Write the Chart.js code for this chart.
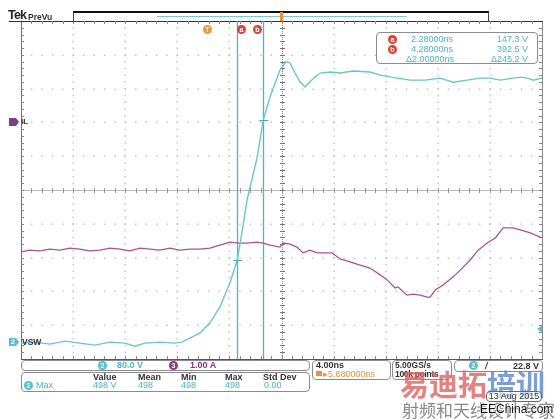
<!DOCTYPE html>
<html lang="en">
<head>
  <meta charset="UTF-8" />
  <title>Tek PreVu - VSW / IL switching edge</title>
  <script src="https://cdn.jsdelivr.net/npm/chart.js"></script>
  <style>
    body { margin: 0; background: #fff; font-family: 'Liberation Sans', Arial, sans-serif; }
    #scope { position: relative; width: 555px; height: 420px; overflow: hidden; }
    #scope canvas { position: absolute; left: 0; top: 0; }
    .abs { position: absolute; white-space: nowrap; }
    .box { position: absolute; border: 1.5px solid #8c8c8c; border-radius: 4px; box-sizing: border-box; background: #fff; }
    .dot { position: absolute; width: 9px; height: 9px; border-radius: 50%; color: #fff; font-size: 7px;
           font-weight: bold; line-height: 9px; text-align: center; }
    .cy { color: #4fb4c4; }
    .hd { color: #333; font-weight: bold; }
    .small { font-size: 9px; line-height: 10px; }
  </style>
</head>
<body>
<div id="scope">
  <canvas id="scopeCanvas" width="555" height="420"></canvas>

  <!-- header -->
  <div class="abs" style="left:8px;top:8px;font-size:12.5px;font-weight:bold;color:#222;letter-spacing:-0.8px">Tek</div>
  <div class="abs" style="left:28px;top:12px;font-size:8.5px;font-weight:bold;color:#333">PreVu</div>
  <div class="abs" style="left:73px;top:11px;width:414px;height:9px;border-top:2px solid #111;border-left:1px solid #444;border-right:1px solid #444"></div>
  <div class="abs" style="left:157px;top:16px;width:249px;height:1px;background:#7dc8d3"></div>
  <div class="abs" style="left:280px;top:12px;width:3px;height:9px;background:#e8923a"></div>

  <!-- cursor / trigger badges -->
  <div class="dot" style="left:203px;top:25px;background:#e89a45">T</div>
  <div class="dot" style="left:237px;top:25px;background:#d9443a">a</div>
  <div class="dot" style="left:253px;top:25px;background:#d9443a">b</div>

  <!-- cursor readout -->
  <div class="box" style="left:376px;top:32px;width:162px;height:32px"></div>
  <div class="dot" style="left:388px;top:35px;background:#d9443a">a</div>
  <div class="dot" style="left:388px;top:45px;background:#d9443a">b</div>
  <div class="abs small cy" style="left:411px;top:34px">2.28000ns</div>
  <div class="abs small cy" style="left:411px;top:44px">4.28000ns</div>
  <div class="abs small cy" style="left:406px;top:54px">Δ2.00000ns</div>
  <div class="abs small cy" style="right:27px;top:34px">147.3 V</div>
  <div class="abs small cy" style="right:27px;top:44px">392.5 V</div>
  <div class="abs small cy" style="right:27px;top:54px">Δ245.2 V</div>

  <!-- channel labels -->
  <div class="abs" style="left:21px;top:117px;font-size:8px;font-weight:bold;color:#333">IL</div>
  <div class="abs" style="left:11px;top:338px;font-size:7px;font-weight:bold;color:#fff">2</div>
  <div class="abs" style="left:22px;top:337px;font-size:8.5px;font-weight:bold;color:#333">VSW</div>

  <!-- bottom readouts -->
  <div class="box" style="left:21px;top:360px;width:289px;height:11px"></div>
  <div class="dot" style="left:98px;top:361px;background:#5bbfcd">2</div>
  <div class="abs small cy" style="left:117px;top:360px;font-weight:bold">80.0 V</div>
  <div class="dot" style="left:169px;top:361px;background:#8b3a8e">3</div>
  <div class="abs small" style="left:190px;top:360px;font-weight:bold;color:#8b2f86">1.00 A</div>

  <div class="box" style="left:21px;top:372px;width:289px;height:20px"></div>
  <div class="abs small hd" style="left:93px;top:372px">Value</div>
  <div class="abs small hd" style="left:138px;top:372px">Mean</div>
  <div class="abs small hd" style="left:181px;top:372px">Min</div>
  <div class="abs small hd" style="left:225px;top:372px">Max</div>
  <div class="abs small hd" style="left:263px;top:372px">Std Dev</div>
  <div class="dot" style="left:24px;top:381px;background:#5bbfcd">2</div>
  <div class="abs small cy" style="left:36px;top:380px">Max</div>
  <div class="abs small cy" style="left:93px;top:380px">498 V</div>
  <div class="abs small cy" style="left:138px;top:380px">498</div>
  <div class="abs small cy" style="left:181px;top:380px">498</div>
  <div class="abs small cy" style="left:225px;top:380px">498</div>
  <div class="abs small cy" style="left:264px;top:380px">0.00</div>

  <div class="box" style="left:312px;top:360px;width:79px;height:20px"></div>
  <div class="abs small hd" style="left:316px;top:360px">4.00ns</div>
  <div class="abs" style="left:316px;top:371px;width:6px;height:5px;background:#e8923a"></div>
  <div class="abs small" style="left:323px;top:369px;color:#e8923a">▸5.680000ns</div>

  <div class="box" style="left:392px;top:360px;width:60px;height:20px"></div>
  <div class="abs hd" style="left:395px;top:360px;font-size:8.5px;line-height:10px">5.00GS/s</div>
  <div class="abs hd" style="left:395px;top:369px;font-size:8.5px;line-height:10px;letter-spacing:-0.3px">100k points</div>

  <div class="box" style="left:454px;top:360px;width:89px;height:12px"></div>
  <div class="dot" style="left:469px;top:361px;background:#5bbfcd">2</div>
  <div class="abs small hd" style="left:485px;top:361px;font-style:italic">/</div>
  <div class="abs small hd" style="left:513px;top:361px">22.8 V</div>

  <!-- watermark -->
  <div class="abs" style="left:400px;top:366px;font-family:'Noto Sans CJK SC';font-size:29px;font-weight:bold;line-height:34px;opacity:0.8">
    <span style="color:#e06262">易迪拓</span><span style="color:#5a86c8">培训</span>
  </div>
  <div class="abs" style="left:486px;top:391px;width:56px;height:11px;border:1px solid #666;border-radius:4px;box-sizing:border-box;font-size:9px;line-height:9px;color:#333;text-align:center;background:rgba(255,255,255,0.6)">13 Aug 2015</div>
  <div class="abs" style="left:402px;top:400px;font-family:'Noto Sans CJK SC';font-size:17px;line-height:20px;color:#8a8a8a">射频和天线设计专家</div>
  <div class="abs" style="left:480px;top:402px;font-size:12px;color:#111;text-shadow:0 0 2px #fff,0 0 2px #fff">EEChina.com</div>
</div>

<script>
  // time base: 4 ns/div, screen centre at 5.68 ns, 10 divisions
  const nsPerDiv = 4;
  const horizPosition = 5.68;
  const xMin = horizPosition - 5 * nsPerDiv;
  const xMax = horizPosition + 5 * nsPerDiv;

  // VSW (ch2) - time in ns, level in screen divisions
  const vswTime = [-14.32, -13.26, -12.11, -10.96, -9.81, -8.65, -7.50, -6.35, -5.58, -4.81, -3.66, -2.50,
    -1.97, -1.35, -0.58, 0.19, 0.95, 1.72, 2.28, 2.64, 3.03, 3.80, 4.28, 4.80, 5.56, 6.03, 6.33, 6.72,
    7.10, 7.49, 7.87, 8.25, 8.64, 9.41, 10.18, 11.17, 12.48, 13.25, 14.56, 15.56, 16.71, 17.86, 18.86,
    19.94, 20.93, 21.70, 22.47, 23.47, 24.01, 24.55, 25.01, 25.68];
  const vswLevel = [-4.53, -4.50, -4.56, -4.47, -4.53, -4.59, -4.50, -4.53, -4.62, -4.53, -4.50, -4.53,
    -4.50, -4.38, -4.23, -3.93, -3.46, -2.75, -2.07, -1.27, -0.30, 0.95, 2.07, 2.75, 3.55, 3.79, 3.76, 3.46,
    3.20, 3.05, 3.20, 3.34, 3.46, 3.49, 3.46, 3.52, 3.49, 3.40, 3.31, 3.25, 3.25, 3.31, 3.19,
    3.25, 3.31, 3.31, 3.25, 3.31, 3.34, 3.31, 3.25, 3.31];

  // IL (ch3) - time in ns, level in screen divisions
  const ilTime = [-14.32, -13.65, -12.88, -12.11, -11.34, -10.57, -9.81, -9.04, -8.27, -7.50, -6.73, -5.96,
    -5.19, -4.43, -3.66, -2.89, -2.12, -1.35, -0.58, 0.19, 0.95, 1.72, 2.34, 3.03, 3.80, 4.26, 4.80, 5.56,
    5.80, 6.33, 6.87, 7.33, 7.87, 8.41, 8.87, 9.56, 10.18, 10.94, 11.71, 12.48, 13.25, 13.79, 14.40, 14.63,
    15.32, 15.79, 16.32, 16.86, 17.09, 17.48, 18.09, 18.86, 19.40, 20.17, 20.78, 21.47, 22.09, 22.70,
    23.47, 24.01, 24.78, 25.68];
  const ilLevel = [-1.83, -1.78, -1.80, -1.75, -1.78, -1.72, -1.75, -1.80, -1.78, -1.72, -1.75, -1.80,
    -1.72, -1.75, -1.78, -1.72, -1.78, -1.75, -1.75, -1.72, -1.63, -1.54, -1.57, -1.57, -1.54, -1.57, -1.63, -1.69,
    -1.57, -1.60, -1.69, -1.86, -1.78, -1.86, -1.86, -1.86, -2.04, -2.13, -2.22, -2.31, -2.51, -2.66, -2.90, -2.87,
    -3.11, -3.08, -3.11, -3.17, -3.17, -2.96, -2.81, -2.57, -2.37, -2.07, -1.78, -1.57, -1.42, -1.12,
    -1.12, -1.18, -1.27, -1.42];

  // cursors a / b and their waveform crossings
  const cursorTime = [2.28, 4.28];
  const cursorLevel = [-2.07, 2.07];
  // channel ground markers and trigger level (divisions)
  const ilGround = 2.01;
  const vswGround = -4.50;
  const triggerLevel = -4.11;

  function hline(ctx, x1, x2, y) { ctx.beginPath(); ctx.moveTo(x1, y); ctx.lineTo(x2, y); ctx.stroke(); }
  function vline(ctx, x, y1, y2) { ctx.beginPath(); ctx.moveTo(x, y1); ctx.lineTo(x, y2); ctx.stroke(); }

  const scopeGrid = {
    id: 'scopeGrid',
    beforeDatasetsDraw(chart) {
      const { ctx, chartArea: a, scales: { x, y } } = chart;
      const xs = [], ys = [];
      for (let i = 0; i <= 10; i++) {
        xs.push(Math.round(x.getPixelForValue(xMin + i * nsPerDiv)));
        ys.push(Math.round(y.getPixelForValue(5 - i)));
      }
      const subX = (xs[10] - xs[0]) / 50, subY = (ys[10] - ys[0]) / 50;
      ctx.save();
      // dotted division lines
      ctx.fillStyle = '#bdbdbd';
      for (let i = 1; i < 10; i++) {
        if (i === 5) continue;
        for (let k = 1; k < 50; k++) {
          ctx.fillRect(xs[i] - 0.5, ys[0] + k * subY - 0.5, 1.4, 1.4);
          ctx.fillRect(xs[0] + k * subX - 0.5, ys[i] - 0.5, 1.4, 1.4);
        }
      }
      // centre horizontal
      ctx.lineWidth = 1;
      ctx.strokeStyle = '#b8b8b8';
      hline(ctx, a.left, a.right, ys[5] + 0.5);
      ctx.strokeStyle = '#9a9a9a';
      for (let k = 1; k < 50; k++) vline(ctx, Math.round(xs[0] + k * subX) + 0.5, ys[5] - 2, ys[5] + 3);
      // centre vertical
      ctx.fillStyle = '#8a8a8a';
      for (let yy = a.top; yy < a.bottom; yy += 2) ctx.fillRect(xs[5], yy, 1, 1);
      ctx.strokeStyle = '#777';
      for (let k = 1; k < 50; k++) hline(ctx, xs[5] - 2, xs[5] + 3, Math.round(ys[0] + k * subY) + 0.5);
      // borders with ticks
      ctx.strokeStyle = '#6e6e6e';
      vline(ctx, xs[0] + 0.5, a.top, a.bottom);
      ctx.strokeStyle = '#888';
      vline(ctx, xs[10] + 0.5, a.top, a.bottom);
      ctx.strokeStyle = '#333';
      hline(ctx, 9, xs[10] + 1, ys[0] + 0.5);
      ctx.strokeStyle = '#555';
      hline(ctx, xs[0], xs[10] + 1, ys[10] + 0.5);
      ctx.strokeStyle = '#888';
      for (let k = 1; k < 50; k++) {
        const ty = Math.round(ys[0] + k * subY) + 0.5;
        hline(ctx, xs[0], xs[0] + 3, ty);
        hline(ctx, xs[10] - 3, xs[10], ty);
        const tx = Math.round(xs[0] + k * subX) + 0.5;
        vline(ctx, tx, ys[0], ys[0] + 3);
        vline(ctx, tx, ys[10] - 3, ys[10]);
      }
      // cursors
      ctx.strokeStyle = '#45b7c7';
      ctx.lineWidth = 1.3;
      cursorTime.forEach(t => vline(ctx, Math.round(x.getPixelForValue(t)) + 0.5, a.top, a.bottom));
      ctx.restore();
    },
    afterDatasetsDraw(chart) {
      const { ctx, chartArea: a, scales: { x, y } } = chart;
      ctx.save();
      ctx.strokeStyle = '#4aa9b8';
      ctx.lineWidth = 1;
      cursorTime.forEach((t, i) => {
        const cx = x.getPixelForValue(t);
        hline(ctx, cx - 4, cx + 5, Math.round(y.getPixelForValue(cursorLevel[i])) + 0.5);
      });
      // channel ground markers
      const marker = (yy, color) => {
        ctx.fillStyle = color;
        ctx.beginPath();
        ctx.moveTo(9, yy - 4); ctx.lineTo(16, yy - 4); ctx.lineTo(19, yy);
        ctx.lineTo(16, yy + 4); ctx.lineTo(9, yy + 4); ctx.closePath(); ctx.fill();
      };
      marker(y.getPixelForValue(ilGround), '#7b3f8c');
      marker(y.getPixelForValue(vswGround), '#5bbfcd');
      // trigger level arrow
      const ty = y.getPixelForValue(triggerLevel);
      ctx.fillStyle = '#5bbfcd';
      ctx.beginPath();
      ctx.moveTo(a.right, ty - 3.5); ctx.lineTo(a.right - 5, ty); ctx.lineTo(a.right, ty + 3.5);
      ctx.closePath(); ctx.fill();
      ctx.restore();
    }
  };

  new Chart(document.getElementById('scopeCanvas'), {
    type: 'line',
    data: {
      datasets: [
        {
          label: 'VSW',
          data: vswTime.map((t, i) => ({ x: t, y: vswLevel[i] })),
          borderColor: '#6cc4cf',
          borderWidth: 1.4,
          pointRadius: 0,
          tension: 0
        },
        {
          label: 'IL',
          data: ilTime.map((t, i) => ({ x: t, y: ilLevel[i] })),
          borderColor: '#ad5290',
          borderWidth: 1.3,
          pointRadius: 0,
          tension: 0
        }
      ]
    },
    options: {
      responsive: false,
      animation: false,
      events: [],
      layout: { padding: { left: 21, top: 21, right: 13, bottom: 61 } },
      plugins: { legend: { display: false }, tooltip: { enabled: false } },
      scales: {
        x: { type: 'linear', min: xMin, max: xMax, display: false },
        y: { min: -5, max: 5, display: false }
      }
    },
    plugins: [scopeGrid]
  });
</script>
</body>
</html>
